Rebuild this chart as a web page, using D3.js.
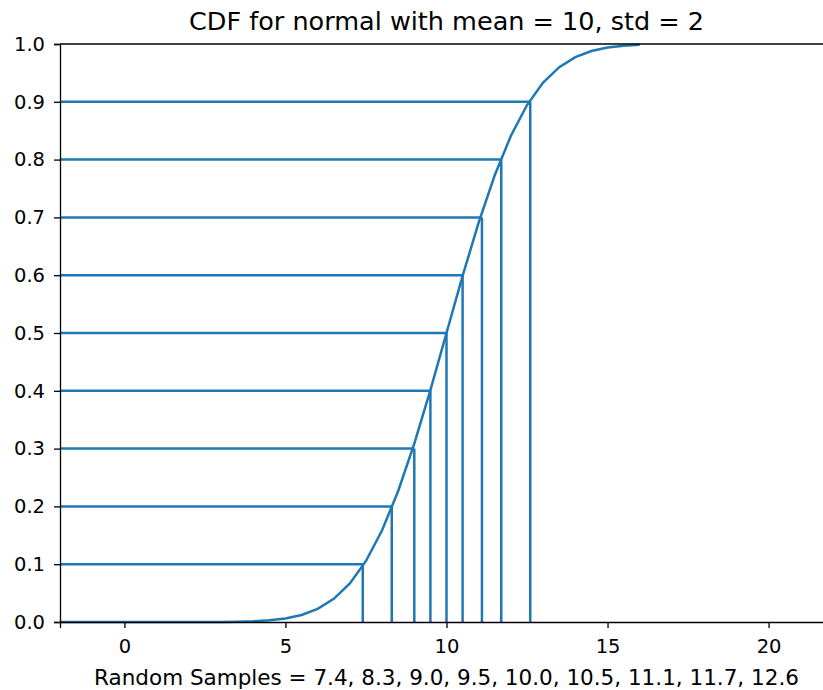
<!DOCTYPE html>
<html>
<head>
<meta charset="utf-8">
<script src="https://cdn.jsdelivr.net/npm/d3@7"></script>
<style>
body { margin: 0; background: #fff; }
text { font-family: "DejaVu Sans", sans-serif; fill: #000; }
</style>
</head>
<body>
<div id="chart"></div>
<script>
// curve points
const curveX = [-2, -1, 0, 1, 2, 3, 3.5, 4, 4.5, 5, 5.5, 6, 6.5, 7, 7.5, 8, 8.5, 9, 9.5, 10,
  10.5, 11, 11.5, 12, 12.5, 13, 13.5, 14, 14.5, 15, 15.5, 16];
const curveY = [0, 0, 0, 0, 0, 0.0002, 0.0006, 0.0013, 0.003, 0.0062, 0.0122, 0.0228, 0.0401, 0.0668, 0.1056, 0.1587, 0.2266, 0.3085, 0.4013, 0.5,
  0.5987, 0.6915, 0.7734, 0.8413, 0.8944, 0.9332, 0.9599, 0.9772, 0.9878, 0.9938, 0.997, 0.9987];

const samples = [7.4, 8.3, 9.0, 9.5, 10.0, 10.5, 11.1, 11.7, 12.6];
const probs = [0.1, 0.2, 0.3, 0.4, 0.5, 0.6, 0.7, 0.8, 0.9];

const xTicks = [0, 5, 10, 15, 20];
const yTicks = [0, 0.1, 0.2, 0.3, 0.4, 0.5, 0.6, 0.7, 0.8, 0.9, 1.0];

const svgWidth = 823, svgHeight = 690;
const margin = {top: 44, left: 60, bottom: 68, right: -10};

const blue = "#1f77b4";

const svg = d3.select("#chart").append("svg")
  .attr("width", svgWidth)
  .attr("height", svgHeight);

const x = d3.scaleLinear().domain([-2, 22]).range([margin.left, svgWidth - margin.right]);
const y = d3.scaleLinear().domain([0, 1]).range([svgHeight - margin.bottom, margin.top]);

// marks
const g = svg.append("g");

const pts = curveX.map((v, i) => [v, curveY[i]]);
g.append("path")
  .datum(pts)
  .attr("fill", "none")
  .attr("stroke", blue)
  .attr("stroke-width", 2.5)
  .attr("d", d3.line().x(d => x(d[0])).y(d => y(d[1])));

g.selectAll(".hl")
  .data(samples)
  .enter().append("line")
  .attr("x1", x(-2))
  .attr("x2", d => x(d))
  .attr("y1", (d, i) => y(probs[i]))
  .attr("y2", (d, i) => y(probs[i]))
  .attr("stroke", blue)
  .attr("stroke-width", 2.5);

g.selectAll(".vl")
  .data(samples)
  .enter().append("line")
  .attr("x1", d => x(d))
  .attr("x2", d => x(d))
  .attr("y1", y(0))
  .attr("y2", (d, i) => y(probs[i]))
  .attr("stroke", blue)
  .attr("stroke-width", 2.5);

// axes
const xAxis = svg.append("g")
  .attr("transform", `translate(0,${y(0)})`)
  .call(d3.axisBottom(x).tickValues(xTicks).tickSize(6).tickPadding(11).tickFormat(d3.format("d")));

const yAxis = svg.append("g")
  .attr("transform", `translate(${x(-2)},0)`)
  .call(d3.axisLeft(y).tickValues(yTicks).tickSize(6).tickPadding(9).tickFormat(d3.format(".1f")));

[xAxis, yAxis].forEach(a => {
  a.select(".domain").attr("stroke", "#000").attr("stroke-width", 1.3);
  a.selectAll(".tick line").attr("stroke", "#000").attr("stroke-width", 1.3);
  a.selectAll("text").style("font-size", "19.5px").style("font-family", "DejaVu Sans");
});

// top spine
svg.append("line")
  .attr("x1", x(-2)).attr("x2", x(22))
  .attr("y1", y(1)).attr("y2", y(1))
  .attr("stroke", "#000").attr("stroke-width", 1.3);

// title + label
svg.append("text")
  .attr("x", (x(-2) + x(22)) / 2)
  .attr("y", 30)
  .attr("text-anchor", "middle")
  .style("font-size", "25.5px")
  .text("CDF for normal with mean = 10, std = 2");

svg.append("text")
  .attr("x", (x(-2) + x(22)) / 2)
  .attr("y", 685)
  .attr("text-anchor", "middle")
  .style("font-size", "21.5px")
  .text("Random Samples = " + samples.map(d => d.toFixed(1)).join(", "));
</script>
</body>
</html>
